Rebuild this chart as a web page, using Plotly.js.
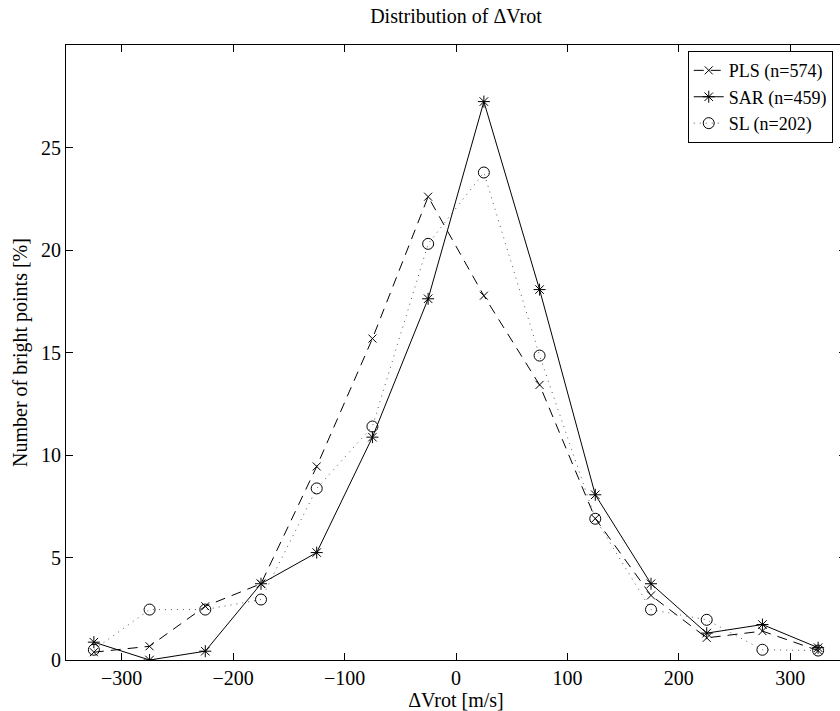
<!DOCTYPE html>
<html>
<head>
<meta charset="utf-8">
<script src="https://cdn.plot.ly/plotly-3.0.1.min.js"></script>
<style>
html, body { margin: 0; padding: 0; overflow: hidden; background: #fff; }
#chart { width: 846px; height: 711px; }
</style>
</head>
<body>
<div id="chart"></div>
<script>
// Bin centres of ΔVrot [m/s]
const binCenters = [-325, -275, -225, -175, -125, -75, -25, 25, 75, 125, 175, 225, 275, 325];
// Percentage of bright points per bin
const plsValues = [0.38, 0.67, 2.62, 3.72, 9.44, 15.68, 22.6, 17.77, 13.42, 6.9, 3.15, 1.08, 1.41, 0.46];
const sarValues = [0.87, 0.0, 0.43, 3.72, 5.24, 10.87, 17.62, 27.24, 18.07, 8.06, 3.72, 1.31, 1.73, 0.6];
const slValues  = [0.5, 2.46, 2.46, 2.95, 8.37, 11.39, 20.3, 23.78, 14.85, 6.89, 2.46, 1.96, 0.5, 0.46];
const seriesNames = ["PLS (n=574)", "SAR (n=459)", "SL (n=202)"];
const xTicks = [-300, -200, -100, 0, 100, 200, 300];
const yTicks = [0, 5, 10, 15, 20, 25];

const FONT = "Liberation Serif, Times New Roman, serif";
const FS = 20;

const traces = [
  {
    x: binCenters, y: plsValues, name: seriesNames[0], type: "scatter", mode: "lines+markers",
    line: { color: "#000", width: 1, dash: "10px,7px" },
    marker: { symbol: "x-thin-open", size: 8, color: "#000", line: { color: "#000", width: 1 } }
  },
  {
    x: binCenters, y: sarValues, name: seriesNames[1], type: "scatter", mode: "lines+markers",
    line: { color: "#000", width: 1 },
    marker: { symbol: "asterisk-open", size: 10, color: "#000", line: { color: "#000", width: 1 } }
  },
  {
    x: binCenters, y: slValues, name: seriesNames[2], type: "scatter", mode: "lines+markers",
    line: { color: "#555", width: 1, dash: "1px,5px" },
    marker: { symbol: "circle-open", size: 11, color: "#000", line: { color: "#000", width: 1 } }
  }
];

const axisCommon = {
  showgrid: false, zeroline: false, showline: true, mirror: "ticks",
  linecolor: "#000", linewidth: 1, ticks: "inside", ticklen: 7, tickwidth: 1, tickcolor: "#000",
  tickfont: { family: FONT, size: FS, color: "#000" }
};

const layout = {
  width: 846, height: 711,
  margin: { l: 66, r: 0, t: 45, b: 51 },
  paper_bgcolor: "#fff", plot_bgcolor: "#fff",
  font: { family: FONT, size: FS, color: "#000" },
  title: { text: "Distribution of ΔVrot", font: { family: FONT, size: FS, color: "#000" },
           x: 0.5, xref: "paper", xanchor: "center", y: 0.977, yref: "container", yanchor: "middle" },
  xaxis: Object.assign({}, axisCommon, {
    range: [-350, 350], tickvals: xTicks, ticktext: xTicks.map(v => v < 0 ? "\u2212" + Math.abs(v) : String(v)),
    ticklabelstandoff: 0,
    title: { text: "ΔVrot [m/s]", font: { family: FONT, size: FS, color: "#000" }, standoff: 4 }
  }),
  yaxis: Object.assign({}, axisCommon, {
    range: [0, 30], tickvals: yTicks,
    title: { text: "Number of bright points [%]", font: { family: FONT, size: FS, color: "#000" }, standoff: 8 }
  }),
  showlegend: true,
  legend: {
    x: 0.983, xanchor: "right", y: 0.99, yanchor: "top",
    bgcolor: "#fff", bordercolor: "#000", borderwidth: 1,
    font: { family: FONT, size: 18, color: "#000" },
    tracegroupgap: 0, itemwidth: 30
  }
};

Plotly.newPlot("chart", traces, layout, { staticPlot: true, displayModeBar: false });
</script>
</body>
</html>
